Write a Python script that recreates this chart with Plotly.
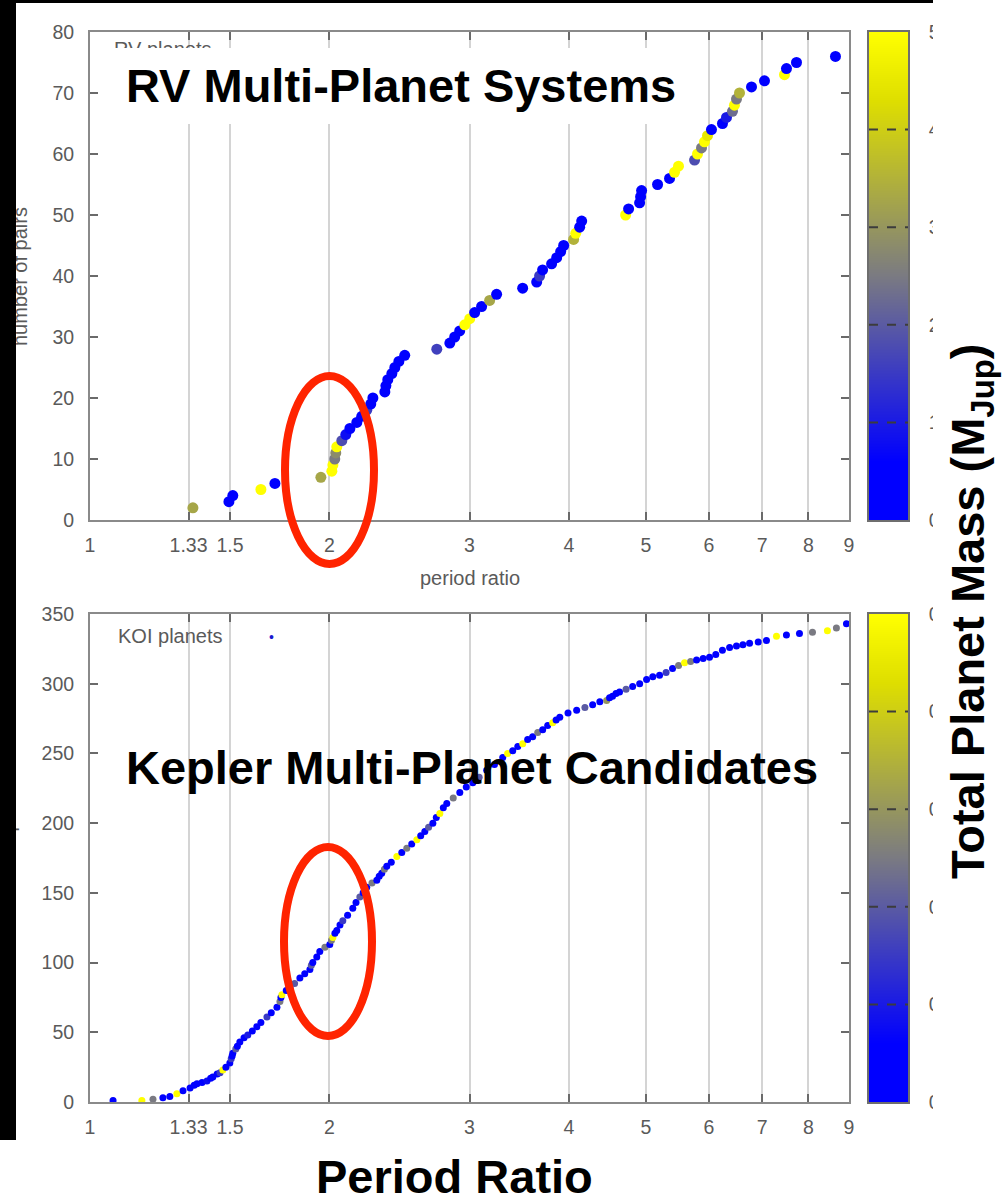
import math
import plotly.graph_objects as go

W, H = 1004, 1196
FONT = "Liberation Sans, Arial, sans-serif"

# ---------------- data ----------------
x_tick_vals = [1, 1.33, 1.5, 2, 3, 4, 5, 6, 7, 8, 9]
x_tick_text = ["1", "1.33", "1.5", "2", "3", "4", "5", "6", "7", "8", "9"]

rv_ratio = [1.347, 1.495, 1.512, 1.640, 1.708, 1.951, 2.014, 2.020, 2.031, 2.037,
            2.043, 2.073, 2.097, 2.122, 2.165, 2.196, 2.228, 2.254, 2.268, 2.348,
            2.355, 2.368, 2.396, 2.417, 2.445, 2.487, 2.729, 2.834, 2.874, 2.916,
            2.959, 3.002, 3.045, 3.107, 3.180, 3.245, 3.499, 3.644, 3.675, 3.707,
            3.805, 3.861, 3.906, 3.940, 4.055, 4.080, 4.127, 4.151, 4.714, 4.755,
            4.909, 4.923, 4.937, 5.171, 5.353, 5.431, 5.494, 5.755, 5.805, 5.872,
            5.923, 5.975, 6.044, 6.240, 6.313, 6.423, 6.460, 6.498, 6.555, 6.787,
            7.047, 7.467, 7.510, 7.731, 8.654]
rv_count = [2, 3, 4, 5, 6, 7, 8, 9, 10, 11,
            12, 13, 14, 15, 16, 17, 18, 19, 20, 21,
            22, 23, 24, 25, 26, 27, 28, 29, 30, 31,
            32, 33, 34, 35, 36, 37, 38, 39, 40, 41,
            42, 43, 44, 45, 46, 47, 48, 49, 50, 51,
            52, 53, 54, 55, 56, 57, 58, 59, 60, 61,
            62, 63, 64, 65, 66, 67, 68, 69, 70, 71,
            72, 73, 74, 75, 76]
rv_mass = [3.3, 0.4, 0.5, 5.0, 0.4, 3.3, 5.0, 5.0, 2.5, 2.8,
           5.0, 1.8, 0.8, 0.5, 0.4, 0.5, 1.5, 0.5, 0.4, 0.4,
           0.5, 0.4, 0.5, 0.4, 0.4, 0.5, 1.6, 0.5, 0.4, 0.5,
           5.0, 5.0, 0.4, 0.5, 3.3, 0.4, 0.5, 0.4, 1.5, 0.5,
           0.4, 0.5, 0.4, 0.5, 3.5, 5.0, 0.4, 0.5, 5.0, 0.4,
           0.5, 0.4, 0.5, 0.4, 0.5, 5.0, 5.0, 1.8, 5.0, 2.5,
           5.0, 4.5, 0.5, 0.4, 1.0, 2.3, 5.0, 2.5, 3.5, 0.4,
           0.5, 5.0, 0.4, 0.5, 0.4]

koi_ratio = [1.069, 1.162, 1.200, 1.235, 1.260, 1.286, 1.309, 1.336, 1.352, 1.363,
             1.383, 1.403, 1.418, 1.427, 1.445, 1.457, 1.469, 1.482, 1.499, 1.505,
             1.509, 1.512, 1.525, 1.532, 1.543, 1.562, 1.579, 1.600, 1.621, 1.640,
             1.669, 1.690, 1.718, 1.733, 1.738, 1.743, 1.765, 1.784, 1.808, 1.836,
             1.862, 1.890, 1.898, 1.906, 1.928, 1.945, 1.974, 2.002, 2.012, 2.020,
             2.032, 2.043, 2.062, 2.079, 2.108, 2.140, 2.160, 2.184, 2.205, 2.228,
             2.262, 2.294, 2.310, 2.327, 2.345, 2.361, 2.392, 2.431, 2.466, 2.502,
             2.538, 2.576, 2.605, 2.636, 2.665, 2.698, 2.725, 2.753, 2.781, 2.809,
             2.862, 2.917, 2.972, 3.029, 3.085, 3.153, 3.225, 3.303, 3.350, 3.400,
             3.450, 3.500, 3.550, 3.602, 3.655, 3.708, 3.762, 3.817, 3.855, 3.896,
             3.990, 4.091, 4.190, 4.285, 4.375, 4.462, 4.500, 4.539, 4.585, 4.632,
             4.720, 4.811, 4.910, 5.009, 5.100, 5.201, 5.300, 5.400, 5.495, 5.591,
             5.690, 5.789, 5.900, 6.010, 6.120, 6.239, 6.370, 6.498, 6.620, 6.749,
             6.920, 7.087, 7.296, 7.509, 7.798, 8.097, 8.455, 8.678, 8.934]
koi_count = [1, 1, 2, 3, 4, 6, 8, 10, 12, 13,
             14, 15, 17, 18, 20, 21, 23, 25, 28, 31,
             33, 35, 38, 40, 43, 46, 48, 51, 54, 57,
             61, 64, 68, 72, 75, 77, 80, 82, 85, 89,
             92, 95, 98, 100, 104, 108, 111, 113, 116, 118,
             121, 123, 127, 130, 134, 139, 143, 147, 150, 154,
             157, 159, 162, 164, 167, 169, 172, 176, 179, 182,
             185, 188, 191, 194, 197, 200, 204, 207, 211, 214,
             218, 222, 226, 229, 233, 238, 242, 247, 250, 252,
             255, 257, 260, 262, 265, 267, 270, 272, 274, 276,
             279, 281, 283, 285, 287, 288, 290, 291, 293, 294,
             296, 298, 300, 303, 305, 306, 308, 311, 313, 315,
             316, 317, 318, 319, 321, 324, 326, 327, 328, 329,
             330, 331, 334, 335, 336, 337, 338, 340, 343]
koi_mass = [0.03, 0.5, 0.25, 0.03, 0.03, 0.5, 0.03, 0.03, 0.05, 0.03,
            0.03, 0.08, 0.03, 0.03, 0.03, 0.15, 0.5, 0.03, 0.03, 0.15,
            0.03, 0.03, 0.2, 0.03, 0.03, 0.03, 0.1, 0.03, 0.03, 0.03,
            0.15, 0.03, 0.03, 0.25, 0.03, 0.5, 0.03, 0.03, 0.2, 0.03,
            0.03, 0.03, 0.2, 0.03, 0.03, 0.03, 0.25, 0.03, 0.25, 0.5,
            0.03, 0.03, 0.03, 0.15, 0.03, 0.03, 0.03, 0.2, 0.03, 0.03,
            0.25, 0.03, 0.03, 0.03, 0.25, 0.03, 0.03, 0.5, 0.03, 0.25,
            0.03, 0.5, 0.03, 0.03, 0.2, 0.03, 0.03, 0.5, 0.03, 0.03,
            0.25, 0.03, 0.03, 0.03, 0.2, 0.03, 0.03, 0.03, 0.5, 0.03,
            0.03, 0.5, 0.03, 0.03, 0.25, 0.03, 0.03, 0.5, 0.03, 0.03,
            0.03, 0.03, 0.2, 0.03, 0.03, 0.3, 0.03, 0.03, 0.03, 0.03,
            0.2, 0.03, 0.03, 0.03, 0.03, 0.03, 0.15, 0.03, 0.25, 0.5,
            0.25, 0.03, 0.03, 0.03, 0.03, 0.03, 0.03, 0.03, 0.03, 0.03,
            0.03, 0.03, 0.5, 0.03, 0.03, 0.25, 0.5, 0.25, 0.03]

rv_cbar_ticks = [0, 1, 2, 3, 4, 5]
koi_cbar_ticks = [0, 0.1, 0.2, 0.3, 0.4, 0.5]

# ---------------- style ----------------
CSCALE = [[0.0, "rgb(0,0,255)"], [0.12, "rgb(0,0,255)"], [0.5, "rgb(122,122,130)"],
          [0.86, "rgb(222,222,0)"], [1.0, "rgb(255,255,0)"]]
TICKFONT = dict(family=FONT, size=19.5, color="#5a5a5a")


def px(x):
    return x / W


def py(y):
    return 1 - y / H


fig = go.Figure()

fig.add_trace(go.Scatter(
    x=rv_ratio, y=rv_count, mode="markers", xaxis="x", yaxis="y",
    marker=dict(size=11, color=rv_mass, colorscale=CSCALE, cmin=0, cmax=5,
                showscale=False, line=dict(width=0)),
    showlegend=False, hoverinfo="skip"))

fig.add_trace(go.Scatter(
    x=koi_ratio, y=koi_count, mode="markers", xaxis="x2", yaxis="y2",
    marker=dict(size=7, color=koi_mass, colorscale=CSCALE, cmin=0, cmax=0.5,
                showscale=False, line=dict(width=0)),
    showlegend=False, hoverinfo="skip"))

# colour bars drawn as heatmaps on their own axes
fig.add_trace(go.Heatmap(
    z=[[v, v] for v in rv_cbar_ticks], x=[0, 1], y=rv_cbar_ticks,
    xaxis="x3", yaxis="y3", colorscale=CSCALE, zmin=0, zmax=5,
    zsmooth="best", showscale=False, hoverinfo="skip"))
fig.add_trace(go.Heatmap(
    z=[[v, v] for v in koi_cbar_ticks], x=[0, 1], y=koi_cbar_ticks,
    xaxis="x4", yaxis="y4", colorscale=CSCALE, zmin=0, zmax=0.5,
    zsmooth="best", showscale=False, hoverinfo="skip"))

XDOM = [px(90), px(849)]
TOP_DOM = [py(520), py(32)]
BOT_DOM = [py(1102), py(614)]
CB_DOM = [px(869), px(908)]

frame = dict(showline=True, linecolor="#8a8a8a", linewidth=2, mirror="ticks",
             ticks="inside", ticklen=8, tickwidth=1.5, tickcolor="#6a6a6a",
             tickfont=TICKFONT, zeroline=False, automargin=False)

xcommon = dict(frame, type="log", range=[0, math.log10(9)],
               tickvals=x_tick_vals, ticktext=x_tick_text,
               showgrid=True, gridcolor="#d4d4d4", gridwidth=2,
               domain=XDOM, ticklabelstandoff=7)

cbx = dict(domain=CB_DOM, range=[0, 1], showticklabels=False, showgrid=False,
           zeroline=False, showline=True, mirror=True, linecolor="#6e6e6e",
           linewidth=1.5, ticks="", automargin=False)
cby = dict(showgrid=False, zeroline=False, showline=True, mirror=True,
           linecolor="#6e6e6e", linewidth=1.5, side="right", ticks="",
           tickfont=TICKFONT, ticklabelstandoff=15, automargin=False)

fig.update_layout(
    width=W, height=H, autosize=False,
    margin=dict(l=0, r=0, t=0, b=0, pad=0, autoexpand=False),
    paper_bgcolor="white", plot_bgcolor="white",
    showlegend=False,
    xaxis=dict(xcommon, anchor="y"),
    yaxis=dict(frame, domain=TOP_DOM, range=[0, 80], tick0=0, dtick=10,
               showgrid=False, anchor="x", ticklabelstandoff=10),
    xaxis2=dict(xcommon, anchor="y2"),
    yaxis2=dict(frame, domain=BOT_DOM, range=[0, 350], tick0=0, dtick=50,
                showgrid=False, anchor="x2", ticklabelstandoff=10),
    xaxis3=dict(cbx, anchor="y3"),
    yaxis3=dict(cby, domain=TOP_DOM, range=[0, 5], tickvals=rv_cbar_ticks,
                anchor="x3"),
    xaxis4=dict(cbx, anchor="y4"),
    yaxis4=dict(cby, domain=BOT_DOM, range=[0, 0.5], tickvals=koi_cbar_ticks,
                anchor="x4"),
)

shapes = []
for v in rv_cbar_ticks[1:-1]:
    shapes.append(dict(type="line", xref="x3 domain", yref="y3", x0=0, x1=1, y0=v, y1=v,
                       line=dict(color="#3c3c3c", width=2, dash="dash"), layer="above"))
for v in koi_cbar_ticks[1:-1]:
    shapes.append(dict(type="line", xref="x4 domain", yref="y4", x0=0, x1=1, y0=v, y1=v,
                       line=dict(color="#3c3c3c", width=2, dash="dash"), layer="above"))
# red highlight ellipses
for (x0, y0, x1, y1) in [(285, 376, 374, 564), (284, 847, 372, 1036)]:
    shapes.append(dict(type="circle", xref="paper", yref="paper",
                       x0=px(x0), x1=px(x1), y0=py(y1), y1=py(y0),
                       line=dict(color="#ff2400", width=8), layer="above"))
fig.update_layout(shapes=shapes)


def box(x0, y0, x1, y1, color):
    return dict(xref="paper", yref="paper", x=px(x0), y=py(y0), xanchor="left",
                yanchor="top", width=x1 - x0, height=y1 - y0, text=" ",
                showarrow=False, bgcolor=color, borderpad=0, borderwidth=0)


def label(text, x, y, size, color, bold=False, xanchor="left", angle=0):
    return dict(xref="paper", yref="paper", x=px(x), y=py(y), xanchor=xanchor,
                yanchor="middle", text=text, showarrow=False, textangle=angle,
                font=dict(family=FONT, size=size, color=color,
                          weight="bold" if bold else "normal"))


ann = [
    label("RV planets", 112, 49, 20, "#5a5a5a"),
    label("●", 253, 50, 14, "#0000ff"),
    box(102, 48, 695, 124, "white"),
    label("RV Multi-Planet Systems", 124, 86, 47, "black", bold=True),
    label("KOI planets", 116, 636, 20, "#5a5a5a"),
    label("•", 267, 637, 14, "#1a1ad0"),
    label("Kepler Multi-Planet Candidates", 124, 767, 47, "black", bold=True),
    label("period ratio", 470, 578, 20, "#5a5a5a", xanchor="center"),
    label("number of pairs", 20, 277, 20, "#5a5a5a", xanchor="center", angle=-90),
    label("number of pairs", 8, 858, 20, "#5a5a5a", xanchor="center", angle=-90),
    box(0, 0, 16, 1140, "black"),
    box(0, 0, 933, 3, "black"),
    box(933, 0, 1004, 1196, "white"),
    label("Total Planet Mass (M<sub>Jup</sub>)", 971, 611, 47, "black", bold=True,
          xanchor="center", angle=-90),
    label("Period Ratio", 454, 1176, 47, "black", bold=True, xanchor="center"),
]
fig.update_layout(annotations=ann)

fig.write_html("out.html")
